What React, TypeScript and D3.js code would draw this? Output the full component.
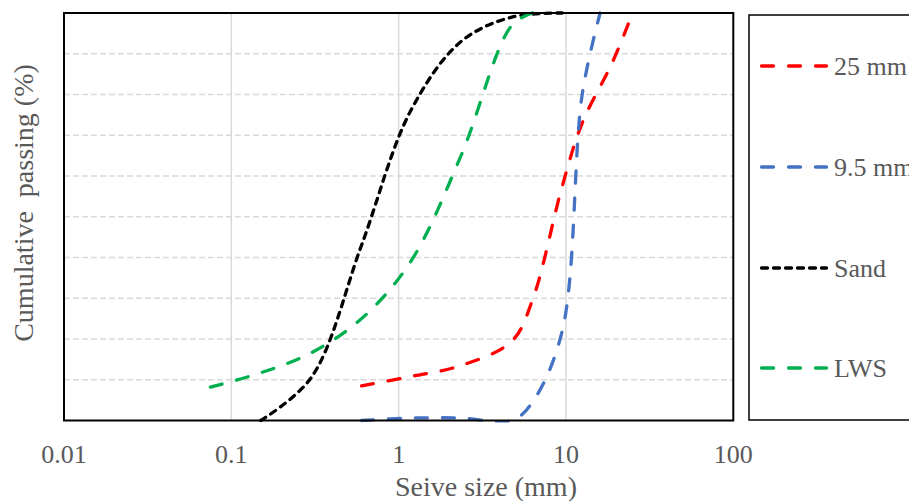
import React from "react";
import * as d3 from "d3";

// ---- Data ----
const xTicks = [0.01, 0.1, 1, 10, 100];
const xTickLabels = ["0.01", "0.1", "1", "10", "100"];
const yGrid = [10, 20, 30, 40, 50, 60, 70, 80, 90];

const size25 = [0.6, 1.18, 2.36, 4.75, 6.3, 9.5, 12.5, 19, 25];
const pass25 = [8.5, 10.8, 13.5, 19.5, 29.5, 57.5, 73, 88, 100];

const size95 = [0.6, 1.18, 2.36, 4.75, 6.3, 9.5, 12.5, 16];
const pass95 = [0, 0.6, 0.6, 0, 4.5, 22, 80, 100];

const sizeSand = [0.15, 0.3, 0.6, 1.18, 2.36, 4.75, 9.5];
const passSand = [0, 10.5, 43, 76, 93, 99, 100];

const sizeLWS = [0.075, 0.15, 0.3, 0.6, 1.18, 2.36, 4.75, 6.3];
const passLWS = [8.2, 11.7, 16.6, 25, 39, 65, 97, 100];

const seriesNames = ["25 mm", "9.5 mm", "Sand", "LWS"];
const seriesColors = ["#FF0000", "#4472C4", "#000000", "#00B050"];
const seriesDash = ["12 15", "12 15", "6 6", "12 15"];
const seriesSizes = [size25, size95, sizeSand, sizeLWS];
const seriesPass = [pass25, pass95, passSand, passLWS];

const W = 909;
const H = 501;
const left = 64;
const right = 733.3;
const top = 13;
const bottom = 420.5;
const FONT = "'Liberation Serif', 'Times New Roman', serif";
const TEXT = "#595959";

export default function App() {
  const x = d3.scaleLog().domain([0.01, 100]).range([left, right]);
  const y = d3.scaleLinear().domain([0, 100]).range([bottom, top]);

  const line = d3
    .line<[number, number]>()
    .x((d) => x(d[0]))
    .y((d) => y(d[1]))
    .curve(d3.curveCatmullRom.alpha(0.5));

  const legendY = [66, 167, 268, 368];

  return (
    <svg
      width={W}
      height={H}
      style={{ position: "absolute", left: 0, top: 0, background: "#fff" }}
      fontFamily={FONT}
    >
      <rect x={0} y={0} width={W} height={H} fill="#fff" />
      {/* vertical gridlines */}
      {xTicks.slice(1, -1).map((t) => (
        <line
          key={"vg" + t}
          x1={x(t)}
          x2={x(t)}
          y1={top}
          y2={bottom}
          stroke="#D9D9D9"
          strokeWidth={1.5}
        />
      ))}
      {/* horizontal dashed gridlines */}
      {yGrid.map((g) => (
        <line
          key={"hg" + g}
          x1={left}
          x2={right}
          y1={y(g)}
          y2={y(g)}
          stroke="#D9D9D9"
          strokeWidth={1.5}
          strokeDasharray="6 3"
        />
      ))}
      {/* series */}
      <defs>
        <clipPath id="plotclip">
          <rect x={left} y={top - 2} width={right - left} height={bottom - top + 4} />
        </clipPath>
      </defs>
      <g clipPath="url(#plotclip)">
        {seriesNames.map((n, i) => {
          const pts = seriesSizes[i].map((s, j) => [s, seriesPass[i][j]] as [number, number]);
          return (
            <path
              key={n}
              d={line(pts) || ""}
              fill="none"
              stroke={seriesColors[i]}
              strokeWidth={3.3}
              strokeDasharray={seriesDash[i]}
              strokeLinecap="round"
            />
          );
        })}
      </g>
      {/* plot border */}
      <rect
        x={left}
        y={top}
        width={right - left}
        height={bottom - top}
        fill="none"
        stroke="#000"
        strokeWidth={2}
      />
      {/* x tick labels */}
      {xTicks.map((t, i) => (
        <text
          key={"xt" + t}
          x={x(t)}
          y={463}
          textAnchor="middle"
          fontSize={26}
          fill={TEXT}
        >
          {xTickLabels[i]}
        </text>
      ))}
      {/* axis titles */}
      <text x={486} y={496} textAnchor="middle" fontSize={28} fill={TEXT}>
        Seive size (mm)
      </text>
      <text
        transform="translate(33,203) rotate(-90)"
        textAnchor="middle"
        fontSize={28}
        fill={TEXT}
        style={{ whiteSpace: "pre" }}
      >
        {"Cumulative  passing (%)"}
      </text>
      {/* legend */}
      <rect x={749} y={15} width={220} height={405} fill="#fff" stroke="#000" strokeWidth={1.5} />
      {seriesNames.map((n, i) => (
        <g key={"lg" + n}>
          <line
            x1={761.5}
            x2={826.5}
            y1={legendY[i]}
            y2={legendY[i]}
            stroke={seriesColors[i]}
            strokeWidth={3.3}
            strokeDasharray={seriesDash[i]}
            strokeLinecap="round"
          />
          <text x={834} y={legendY[i] + 9} fontSize={26} fill={TEXT}>
            {n}
          </text>
        </g>
      ))}
    </svg>
  );
}
